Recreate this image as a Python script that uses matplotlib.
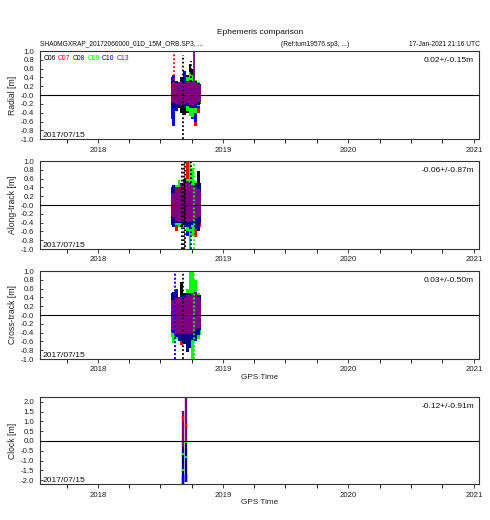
import datetime as dt
import matplotlib
matplotlib.use("Agg")
import matplotlib.pyplot as plt
import matplotlib.dates as mdates

plt.rcParams['font.family'] = ['Liberation Sans', 'DejaVu Sans']

sats = ["C06", "C07", "C08", "C09", "C10", "C13"]
sat_colors = ["#000000", "#ff0000", "#0000ff", "#00ff00", "#00008b", "#800080"]

# binned epochs, day of year 2018
days = [212, 220, 228, 236, 244, 252, 260, 268, 276, 284, 292, 300]

# upper / lower envelope of the residuals, one row per satellite (sats order)
radial_hi = [
    [0.15, 0.20, 0.20, 0.25, 0.40, 0.45, 0.45, 0.70, 0.60, 0.35, 0.30, 0.20],
    [0.20, 0.30, 0.25, 0.25, 0.25, 0.25, 0.25, 0.25, 0.30, 0.25, 0.22, 0.18],
    [0.42, 0.45, 0.30, 0.28, 0.30, 0.55, 0.30, 0.30, 0.30, 0.28, 0.25, 0.20],
    [0.15, 0.18, 0.20, 0.22, 0.22, 0.25, 0.40, 0.52, 0.45, 0.35, 0.30, 0.15],
    [0.30, 0.35, 0.32, 0.30, 0.32, 0.30, 0.32, 0.35, 0.33, 0.32, 0.28, 0.25],
    [0.25, 0.28, 0.28, 0.30, 0.30, 0.28, 0.30, 0.32, 0.30, 0.30, 0.26, 0.22],
]
radial_lo = [
    [-0.15, -0.20, -0.25, -0.30, -0.40, -0.45, -0.40, -0.45, -0.50, -0.55, -0.30, -0.15],
    [-0.20, -0.30, -0.25, -0.22, -0.25, -0.25, -0.30, -0.35, -0.50, -0.71, -0.40, -0.20],
    [-0.55, -0.70, -0.35, -0.25, -0.28, -0.28, -0.28, -0.35, -0.55, -0.60, -0.30, -0.20],
    [-0.15, -0.18, -0.20, -0.22, -0.25, -0.25, -0.35, -0.48, -0.50, -0.40, -0.25, -0.18],
    [-0.22, -0.28, -0.28, -0.25, -0.28, -0.25, -0.25, -0.28, -0.30, -0.28, -0.22, -0.15],
    [-0.15, -0.18, -0.20, -0.20, -0.22, -0.20, -0.18, -0.22, -0.22, -0.20, -0.15, -0.10],
]
along_hi = [
    [0.20, 0.30, 0.35, 0.45, 0.50, 0.60, 0.60, 0.70, 0.60, 0.55, 0.77, 0.50],
    [0.25, 0.30, 0.35, 0.40, 0.45, 0.50, 1.00, 0.60, 0.50, 0.45, 0.40, 0.30],
    [0.30, 0.35, 0.35, 0.40, 0.40, 0.40, 0.45, 0.50, 0.45, 0.45, 0.40, 0.35],
    [0.20, 0.30, 0.45, 0.56, 0.45, 0.50, 0.60, 1.00, 0.85, 0.55, 0.45, 0.30],
    [0.40, 0.45, 0.40, 0.42, 0.45, 0.50, 0.55, 0.50, 0.45, 0.50, 0.50, 0.45],
    [0.27, 0.28, 0.40, 0.42, 0.48, 0.54, 0.54, 0.48, 0.45, 0.42, 0.36, 0.32],
]
along_lo = [
    [-0.20, -0.30, -0.40, -0.45, -0.50, -0.50, -0.55, -0.60, -0.55, -0.50, -0.50, -0.40],
    [-0.25, -0.30, -0.60, -0.45, -0.40, -0.40, -0.45, -0.45, -0.50, -0.73, -0.60, -0.50],
    [-0.30, -0.35, -0.35, -0.40, -0.45, -0.50, -0.70, -1.00, -0.60, -0.50, -0.50, -0.40],
    [-0.20, -0.30, -0.45, -0.50, -0.45, -0.50, -0.60, -1.00, -0.70, -0.50, -0.45, -0.30],
    [-0.45, -0.50, -0.40, -0.40, -0.42, -0.45, -0.50, -0.55, -0.45, -0.55, -0.60, -0.40],
    [-0.26, -0.28, -0.36, -0.38, -0.38, -0.37, -0.38, -0.36, -0.34, -0.32, -0.28, -0.24],
]
cross_hi = [
    [0.30, 0.30, 0.35, 0.40, 0.75, 0.50, 0.45, 0.45, 0.45, 0.50, 0.50, 0.45],
    [0.30, 0.30, 0.30, 0.35, 0.35, 0.35, 0.40, 0.40, 0.40, 0.40, 0.35, 0.30],
    [0.35, 0.40, 0.60, 0.40, 0.40, 0.40, 0.45, 0.45, 0.45, 0.45, 0.40, 0.35],
    [0.30, 0.35, 0.35, 0.40, 0.40, 0.45, 0.60, 1.00, 1.00, 0.80, 0.50, 0.40],
    [0.50, 0.53, 0.48, 0.42, 0.45, 0.48, 0.50, 0.50, 0.50, 0.48, 0.45, 0.40],
    [0.34, 0.34, 0.38, 0.42, 0.42, 0.42, 0.45, 0.45, 0.50, 0.53, 0.40, 0.34],
]
cross_lo = [
    [-0.30, -0.30, -0.40, -0.50, -0.60, -0.50, -0.45, -0.45, -0.50, -0.50, -0.45, -0.40],
    [-0.30, -0.30, -0.40, -0.45, -0.68, -0.50, -0.45, -0.45, -0.45, -0.40, -0.42, -0.38],
    [-0.35, -0.40, -0.45, -0.50, -0.55, -0.60, -0.70, -0.70, -1.00, -0.60, -0.50, -0.40],
    [-0.50, -0.64, -0.55, -0.45, -0.45, -0.45, -0.55, -0.60, -1.00, -0.55, -0.55, -0.45],
    [-0.38, -0.40, -0.50, -0.60, -0.60, -0.65, -0.83, -0.75, -0.57, -0.55, -0.45, -0.35],
    [-0.34, -0.34, -0.40, -0.42, -0.42, -0.42, -0.42, -0.42, -0.40, -0.32, -0.30, -0.28],
]

# isolated outlier streaks: (satellite, day, low, high)
radial_spikes = [("C06", 247, -1.0, 0.92), ("C06", 270, 0.3, 0.78),
                 ("C07", 222, 0.25, 1.0), ("C13", 280, 0.25, 1.0)]
along_spikes = [("C06", 244, -1.0, 1.0), ("C06", 249, -1.0, 1.0), ("C06", 253, -0.95, 1.0),
                ("C06", 270, 0.5, 1.0), ("C08", 272, -1.0, -0.5), ("C09", 280, -1.0, 1.0)]
cross_spikes = [("C06", 248, -1.0, 0.95), ("C07", 224, -1.0, 1.0),
                ("C08", 224, -1.0, 1.0), ("C09", 278, -1.0, 1.0)]

# clock: two short arcs
clock_segments = [
    ("C10", 248, -2.2, -0.3), ("C08", 248, -2.2, -1.8), ("C13", 248, -0.3, 1.55),
    ("C07", 248, 1.0, 1.3), ("C09", 248, -0.7, -0.6), ("C09", 248, -1.55, -1.45),
    ("C10", 257, -2.1, -0.1), ("C08", 257, -2.1, -1.7), ("C13", 257, -0.1, 2.26),
    ("C07", 257, 0.7, 0.85), ("C09", 257, -0.85, -0.78), ("C09", 257, -0.1, 0.0),
]

ylabels = ["Radial [m]", "Along-track [m]", "Cross-track [m]", "Clock [m]"]
stats = ["0.02+/-0.15m", "-0.06+/-0.87m", "0.03+/-0.50m", "-0.12+/-0.91m"]
orb_ticks = [-1.0, -0.8, -0.6, -0.4, -0.2, 0.0, 0.2, 0.4, 0.6, 0.8, 1.0]
orb_ticklabels = ["-1.0", "-0.8", "-0.6", "-0.4", "-0.2", "-0.0", "0.2", "0.4", "0.6", "0.8", "1.0"]
clk_ticks = [-2.0, -1.5, -1.0, -0.5, 0.0, 0.5, 1.0, 1.5, 2.0]
clk_ticklabels = ["-2.0", "-1.5", "-1.0", "-0.5", "0.0", "0.5", "1.0", "1.5", "2.0"]

t_start = dt.datetime(2017, 7, 15)
t_end = dt.datetime(2021, 1, 17)
day0 = dt.datetime(2018, 1, 1)


def tnum(d):
    return mdates.date2num(day0 + dt.timedelta(days=d))


def col(s):
    return sat_colors[sats.index(s)]


fig = plt.figure(figsize=(4.9, 5.2), dpi=100)
W, H = 490.0, 520.0
panels = [(51, 139.3), (161, 249), (271, 359), (397.3, 484.3)]
axes = []
for top, bot in panels:
    ax = fig.add_axes([40 / W, 1 - bot / H, 439.3 / W, (bot - top) / H])
    axes.append(ax)

t = [tnum(d) for d in days]
for ax, hi, lo, spikes in zip(axes[:3], [radial_hi, along_hi, cross_hi],
                              [radial_lo, along_lo, cross_lo],
                              [radial_spikes, along_spikes, cross_spikes]):
    for k, s in enumerate(sats):
        ax.fill_between(t, lo[k], hi[k], step='mid', color=sat_colors[k], lw=0)
        for sp in spikes:
            if sp[0] == s:
                ls = '-' if s == "C13" else (0, (1, 1.2))
                ax.plot([tnum(sp[1])] * 2, [sp[2], sp[3]], color=col(s), lw=1.3, ls=ls)
    ax.set_ylim(-1.0, 1.0)
    ax.set_yticks(orb_ticks, orb_ticklabels)

for s, d, lo, hi in clock_segments:
    axes[3].plot([tnum(d)] * 2, [lo, hi], color=col(s), lw=1.7, solid_capstyle='butt')
axes[3].set_ylim(-2.21, 2.23)
axes[3].set_yticks(clk_ticks, clk_ticklabels)

for i, ax in enumerate(axes):
    ax.set_xlim(t_start, t_end)
    ax.xaxis.set_major_locator(mdates.YearLocator())
    ax.xaxis.set_major_formatter(mdates.DateFormatter('%Y'))
    ax.xaxis.set_minor_locator(mdates.MonthLocator(bymonth=(4, 7, 10)))
    ax.axhline(0, color='black', lw=0.8, zorder=5)
    ax.tick_params(axis='y', direction='in', length=2.4, width=0.6, pad=4.2,
                   labelsize=5.6, colors='#222222')
    ax.tick_params(axis='x', which='major', direction='out', length=3.2, width=0.6,
                   pad=2.0, labelsize=5.6, colors='#222222')
    ax.tick_params(axis='x', which='minor', direction='out', length=2.6, width=0.6)
    for sp in ax.spines.values():
        sp.set_color('#333333')
        sp.set_linewidth(0.8)
    ax.set_ylabel(ylabels[i], fontsize=6.2, color='#222222')
    ax.yaxis.set_label_coords(-0.052, 0.5)
    ax.text(0.988, 0.89, stats[i], transform=ax.transAxes, ha='right', va='center',
            fontsize=6.0, color='#111111')
    ax.text(0.005, 0.025, "2017/07/15", transform=ax.transAxes, ha='left',
            va='baseline', fontsize=6.1, color='#111111')

for ax in axes[2:]:
    ax.set_xlabel("GPS Time", fontsize=5.9, va='center', color='#222222')
    ax.xaxis.set_label_coords(0.5, -18.5 / 88.0)

# legend: coloured satellite names in a row
prev = axes[0].text(0.008, 0.917, sats[0], transform=axes[0].transAxes, ha='left',
                    va='center', fontsize=4.9, color=sat_colors[0])
for s, c in zip(sats[1:], sat_colors[1:]):
    prev = axes[0].annotate(s, xy=(1, 0.5), xycoords=prev, xytext=(1.6, 0),
                            textcoords='offset points', ha='left', va='center',
                            fontsize=4.9, color=c)

fig.text(260 / W, 1 - 33 / H, "Ephemeris comparison", ha='center', va='center',
         fontsize=6.0, color='#111111')
fig.text(40 / W, 1 - 44 / H, "SHA0MGXRAP_20172060000_01D_15M_ORB.SP3, ...",
         ha='left', va='center', fontsize=4.8, color='#111111')
fig.text(315 / W, 1 - 44 / H, "(Ref:tum19576.sp3, ...)", ha='center', va='center',
         fontsize=4.8, color='#111111')
fig.text(480 / W, 1 - 44 / H, "17-Jan-2021 21:16 UTC", ha='right', va='center',
         fontsize=4.8, color='#111111')

fig.savefig("out.png", dpi=100)
